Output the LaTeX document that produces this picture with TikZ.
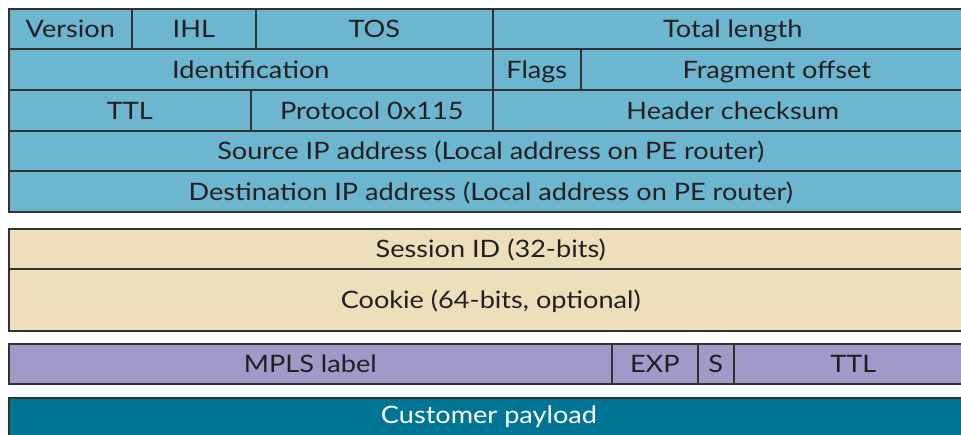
\documentclass[tikz,border=0pt]{standalone}
\usepackage{fontspec}
\setmainfont{Lato}[FakeStretch=1.13]
\definecolor{ipblue}{RGB}{108,182,208}
\definecolor{l2beige}{RGB}{238,223,187}
\definecolor{mplspurple}{RGB}{160,154,200}
\definecolor{payteal}{RGB}{0,118,150}
\definecolor{rule}{RGB}{50,50,50}
\definecolor{ink}{RGB}{35,31,32}
\tikzset{
  cell/.style={draw=rule, line width=1.6pt, inner sep=0pt, anchor=north west,
    text=ink, font=\fontsize{24}{28}\selectfont, text height=17.5pt, text depth=0pt},
}
% \pcell{name}{x1}{y1}{x2}{y2}{fill}{text}
\newcommand\pcell[7]{%
  \node[cell, fill=#6, minimum width={#4pt-#2pt}, minimum height={#5pt-#3pt}] (#1) at (#2,#3) {#7};}
\begin{document}
\begin{tikzpicture}[x=1pt,y=-1pt]
  \useasboundingbox (0,0) rectangle (961,435);
  \clip (0,0) rectangle (961,435);
  % IPv4 header
  \pcell{ver}{8}{8}{131}{48}{ipblue}{Version}
  \pcell{ihl}{131}{8}{255}{48}{ipblue}{IHL}
  \pcell{tos}{255}{8}{492}{48}{ipblue}{TOS}
  \pcell{tlen}{492}{8}{972}{48}{ipblue}{Total length}
  \pcell{ident}{8}{48}{492}{89}{ipblue}{Identification}
  \pcell{flags}{492}{48}{580}{89}{ipblue}{Flags}
  \pcell{frag}{580}{48}{972}{89}{ipblue}{Fragment offset}
  \pcell{ttl}{8}{89}{250}{130}{ipblue}{TTL}
  \pcell{proto}{250}{89}{492}{130}{ipblue}{Protocol 0x115}
  \pcell{csum}{492}{89}{972}{130}{ipblue}{Header checksum}
  \pcell{src}{8}{130}{972}{170}{ipblue}{Source IP address (Local address on PE router)}
  \pcell{dst}{8}{170}{972}{211}{ipblue}{Destination IP address (Local address on PE router)}
  % L2TPv3 header
  \pcell{sess}{8}{228}{972}{268}{l2beige}{Session ID (32-bits)}
  \pcell{cookie}{8}{268}{972}{330}{l2beige}{Cookie (64-bits, optional)}
  % MPLS label stack entry
  \pcell{label}{8}{343}{611}{383}{mplspurple}{MPLS label}
  \pcell{exp}{611}{343}{697}{383}{mplspurple}{EXP}
  \pcell{sbit}{697}{343}{733}{383}{mplspurple}{S}
  \pcell{mttl}{733}{343}{972}{383}{mplspurple}{TTL}
  % Payload
  \node[cell, fill=payteal, minimum width={964pt}, minimum height={40pt}] (pay) at (8,397) {};
  \node[text=white, font=\fontsize{24}{28}\selectfont, inner sep=0pt, text height=17.5pt, text depth=0pt] (paytext) at (489,415) {Customer payload};
\end{tikzpicture}
\end{document}
